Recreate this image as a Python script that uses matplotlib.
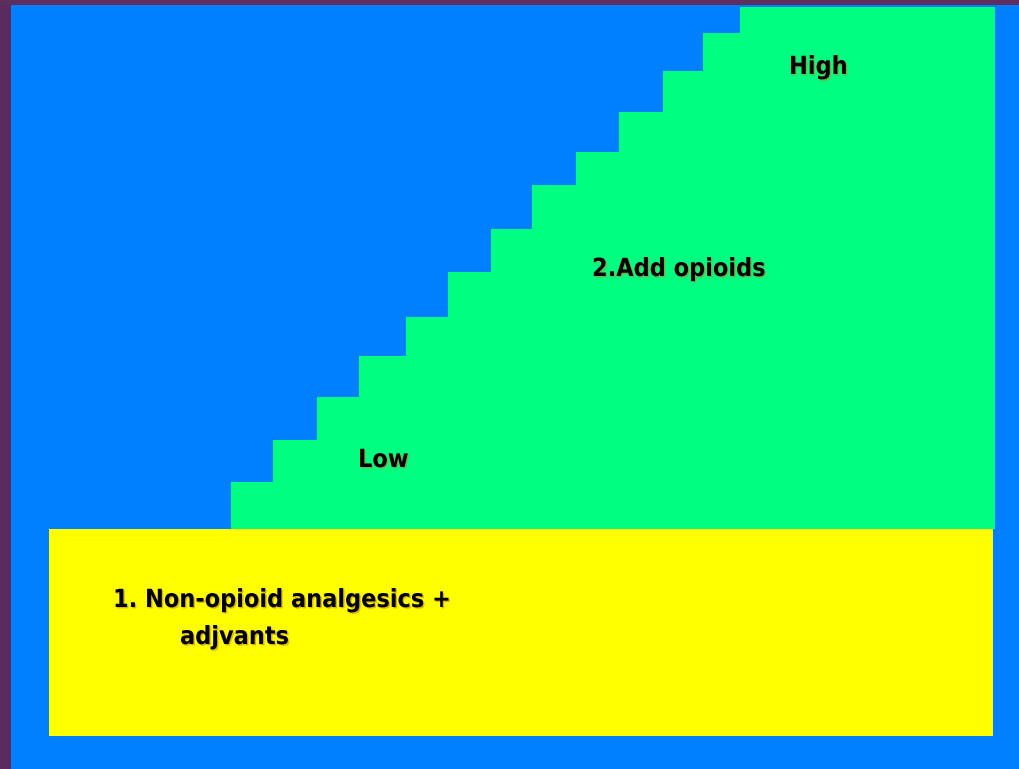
import matplotlib
matplotlib.use("Agg")
import matplotlib.pyplot as plt
import matplotlib.patheffects as pe
from matplotlib.patches import Rectangle
from matplotlib import font_manager as fm

# Staircase (left edge x of each step, and top y of each step), image pixel units
step_x = [231, 273, 317, 359, 406, 448, 491, 532, 576, 619, 663, 703, 740]
step_top = [482, 440, 397, 356, 317, 272, 229, 185, 152, 112, 71, 33, 7]
green_right = 995
green_bottom = 529

# Base block (yellow)
base_x = [49, 993]
base_y = [529, 736]

labels = ["High", "2.Add opioids", "Low", "1. Non-opioid analgesics +", "adjvants"]
label_x = [789, 592, 358, 113, 180]
label_y = [67, 269, 460, 600, 637]

# pick a narrow bold font if available
names = {f.name for f in fm.fontManager.ttflist}
fam = []
for cand in ["Liberation Sans Narrow", "DejaVu Sans"]:
    if cand in names:
        fam.append(cand)
narrow = fam[0] == "Liberation Sans Narrow"

W, H = 1019, 769
fig = plt.figure(figsize=(W / 100, H / 100), dpi=100)
fig.patch.set_facecolor("#0080ff")
ax = fig.add_axes([0, 0, 1, 1])
ax.set_xlim(0, W)
ax.set_ylim(H, 0)
ax.axis("off")
ax.set_facecolor("#0080ff")

# purple frame on left and top
ax.add_patch(Rectangle((0, 0), 11, H, color="#5a2b5e", lw=0, zorder=5))
ax.add_patch(Rectangle((0, 0), W, 5, color="#5e2e5f", lw=0, zorder=5))

# staircase polygon
xs, ys = [step_x[0]], [green_bottom]
for i, (sx, sy) in enumerate(zip(step_x, step_top)):
    xs.append(sx)
    ys.append(sy)
    nx = step_x[i + 1] if i + 1 < len(step_x) else green_right
    xs.append(nx)
    ys.append(sy)
xs.append(green_right)
ys.append(green_bottom)
ax.fill(xs, ys, color="#00ff80", lw=0, zorder=2)

# yellow base
ax.add_patch(Rectangle((base_x[0], base_y[0]), base_x[1] - base_x[0],
                       base_y[1] - base_y[0], color="#ffff00", lw=0, zorder=3))

size = 21 if narrow else 18
for t, x, y in zip(labels, label_x, label_y):
    ax.text(x, y, t, fontsize=size, fontweight="bold", family=fam,
            fontstretch="condensed",
            color="black", ha="left", va="center", zorder=6,
            path_effects=[pe.withSimplePatchShadow(offset=(1, -1),
                                                   shadow_rgbFace="#c08030",
                                                   alpha=0.6)])

fig.savefig("out.png", dpi=100, facecolor=fig.get_facecolor())
